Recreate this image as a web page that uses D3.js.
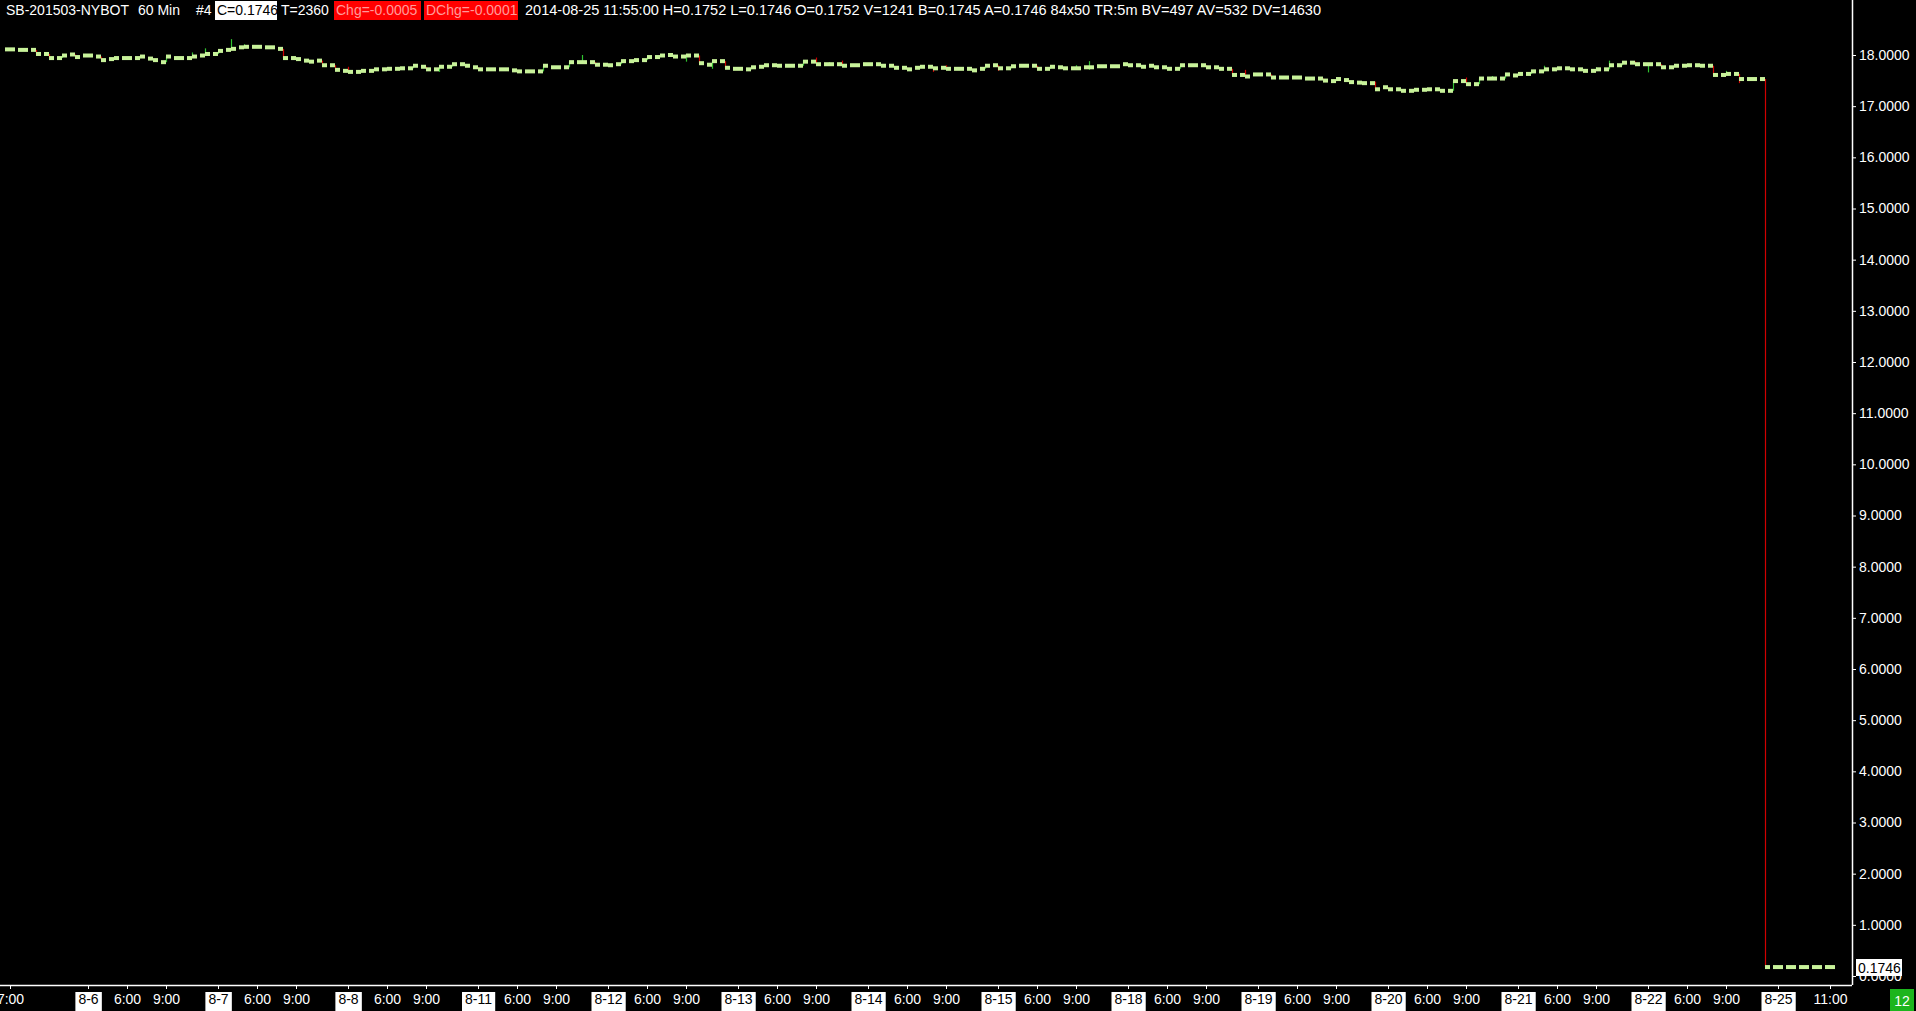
<!DOCTYPE html>
<html>
<head>
<meta charset="utf-8">
<script src="https://cdn.jsdelivr.net/npm/d3@7"></script>
<style>
html, body { margin: 0; padding: 0; background: #000; overflow: hidden; }
svg { display: block; }
text { font-family: "Liberation Sans", Arial, sans-serif; }
</style>
</head>
<body>
<div id="chart"></div>
<script>
// SB-201503 hourly bars, 8-5 7:00 .. 8-25 11:00 (one entry per bar)
var barOpen = [
	18.11, 18.10, 18.10, 18.02, 17.94, 18.01, 17.99, 17.97, 17.92, 17.94,
	17.94, 17.93, 17.86, 17.94, 17.94, 17.99, 18.02, 18.10, 18.15, 18.16,
	18.15, 18.12, 17.94, 17.89, 17.89, 17.80, 17.69, 17.67, 17.69, 17.72,
	17.73, 17.74, 17.77, 17.72, 17.77, 17.82, 17.76, 17.72, 17.72, 17.70,
	17.68, 17.68, 17.76, 17.76, 17.86, 17.86, 17.81, 17.82, 17.88, 17.90,
	17.96, 18.00, 17.97, 17.99, 17.81, 17.88, 17.73, 17.72, 17.77, 17.80,
	17.79, 17.79, 17.87, 17.82, 17.82, 17.80, 17.82, 17.82, 17.79, 17.75,
	17.75, 17.77, 17.75, 17.73, 17.73, 17.73, 17.80, 17.74, 17.79, 17.79,
	17.73, 17.76, 17.74, 17.76, 17.78, 17.78, 17.82, 17.80, 17.79, 17.76,
	17.73, 17.80, 17.80, 17.76, 17.73, 17.61, 17.62, 17.62, 17.56, 17.56,
	17.54, 17.54, 17.49, 17.51, 17.46, 17.45, 17.37, 17.33, 17.30, 17.32,
	17.33, 17.30, 17.49, 17.43, 17.54, 17.54, 17.60, 17.63, 17.68, 17.72,
	17.74, 17.72, 17.69, 17.72, 17.80, 17.85, 17.82, 17.82, 17.76, 17.79,
	17.80, 17.79, 17.61, 17.63, 17.53, 17.53, 0.1746, 0.1746, 0.1746, 0.1746,
	0.1752
];
var barClose = [
	18.11, 18.10, 18.02, 17.94, 17.99, 17.96, 17.99, 17.90, 17.94, 17.94,
	17.97, 17.90, 17.97, 17.94, 17.97, 18.02, 18.08, 18.12, 18.16, 18.16,
	18.15, 17.94, 17.92, 17.87, 17.80, 17.71, 17.67, 17.69, 17.72, 17.73,
	17.74, 17.79, 17.72, 17.77, 17.82, 17.79, 17.72, 17.72, 17.72, 17.68,
	17.68, 17.79, 17.76, 17.86, 17.86, 17.81, 17.80, 17.88, 17.90, 17.96,
	17.99, 17.97, 17.99, 17.84, 17.88, 17.75, 17.73, 17.76, 17.80, 17.79,
	17.79, 17.87, 17.82, 17.82, 17.79, 17.80, 17.82, 17.79, 17.75, 17.72,
	17.77, 17.74, 17.73, 17.73, 17.70, 17.79, 17.74, 17.78, 17.79, 17.73,
	17.77, 17.74, 17.74, 17.76, 17.78, 17.78, 17.80, 17.77, 17.76, 17.73,
	17.80, 17.80, 17.76, 17.73, 17.61, 17.58, 17.62, 17.56, 17.56, 17.56,
	17.54, 17.50, 17.53, 17.47, 17.45, 17.33, 17.33, 17.30, 17.32, 17.33,
	17.30, 17.49, 17.43, 17.54, 17.54, 17.62, 17.63, 17.68, 17.72, 17.74,
	17.72, 17.69, 17.72, 17.80, 17.85, 17.82, 17.82, 17.76, 17.79, 17.80,
	17.79, 17.61, 17.63, 17.53, 17.53, 0.1746, 0.1746, 0.1746, 0.1746, 0.1746,
	0.1746
];
// [bar, high, low] where the high/low line sticks out of the ticks
var wicks = [
	[14, 18.05, null], [15, 18.13, null], [17, 18.31, null], [18, 18.21, null],
	[26, 17.77, null], [33, null, 17.67], [44, 18.00, null], [52, 18.02, 17.87],
	[54, null, 17.73], [61, 17.90, null], [62, 17.95, null], [63, 17.86, null],
	[64, 17.89, null], [71, null, 17.67], [72, 17.80, null], [76, null, 17.69],
	[82, 17.80, null], [83, 17.88, 17.71], [95, 17.71, null], [105, 17.48, null],
	[112, 17.56, null], [114, 17.59, null], [118, 17.79, null], [122, 17.76, null],
	[123, 17.89, null], [125, 17.87, null], [126, null, 17.66], [132, 17.69, null],
	[133, null, 17.45]
];

var xTickBars = [0, 6, 9, 12, 16, 19, 22, 26, 29, 32, 36, 39, 42, 46, 49, 52, 56, 59, 62,
	66, 69, 72, 76, 79, 82, 86, 89, 92, 96, 99, 102, 106, 109, 112, 116, 119, 122,
	126, 129, 132, 136, 140];
var xTickLabels = ["7:00", "8-6", "6:00", "9:00", "8-7", "6:00", "9:00", "8-8", "6:00", "9:00",
	"8-11", "6:00", "9:00", "8-12", "6:00", "9:00", "8-13", "6:00", "9:00",
	"8-14", "6:00", "9:00", "8-15", "6:00", "9:00", "8-18", "6:00", "9:00",
	"8-19", "6:00", "9:00", "8-20", "6:00", "9:00", "8-21", "6:00", "9:00",
	"8-22", "6:00", "9:00", "8-25", "11:00"];
var yTicks = [0, 1, 2, 3, 4, 5, 6, 7, 8, 9, 10, 11, 12, 13, 14, 15, 16, 17, 18];

var lastPrice = "0.1746";

var W = 1916, H = 1011;
var axisX = 1852, axisY = 985;

var svg = d3.select("#chart").append("svg")
	.attr("width", W)
	.attr("height", H);
svg.append("rect").attr("width", W).attr("height", H).attr("fill", "#000");

var x = d3.scaleLinear().domain([0, 140]).range([10, 1830]);
var y = d3.scaleLinear().domain([0, 18]).range([976, 55]);

svg.append("clipPath").attr("id", "plotclip")
	.append("rect").attr("x", 0).attr("y", 0).attr("width", axisX).attr("height", axisY);

var wickMap = {};
wicks.forEach(function(w){ wickMap[w[0]] = w; });

var bars = barOpen.map(function(o, i){
	var c = barClose[i];
	var w = wickMap[i];
	var hi = Math.max(o, c), lo = Math.min(o, c);
	if (w && w[1] != null) hi = w[1];
	if (w && w[2] != null) lo = w[2];
	return {i: i, o: o, c: c, hi: hi, lo: lo, up: c >= o};
});

var plot = svg.append("g").attr("clip-path", "url(#plotclip)");

// high-low lines
plot.selectAll("line.hl")
	.data(bars)
	.enter().append("line")
	.attr("class", "hl")
	.attr("x1", function(d){ return Math.round(x(d.i)) + 0.5; })
	.attr("x2", function(d){ return Math.round(x(d.i)) + 0.5; })
	.attr("y1", function(d){ return y(d.hi); })
	.attr("y2", function(d){ return y(d.lo); })
	.attr("stroke", function(d){ return d.up ? "#2fc22f" : "#d00000"; })
	.attr("stroke-width", 1.2);

// open tick (left) and close tick (right)
plot.selectAll("rect.open")
	.data(bars)
	.enter().append("rect")
	.attr("class", "open")
	.attr("x", function(d){ return x(d.i) - 5; })
	.attr("y", function(d){ return y(d.o) - 2; })
	.attr("width", 5)
	.attr("height", 4)
	.attr("fill", "#c8f29a");

plot.selectAll("rect.close")
	.data(bars)
	.enter().append("rect")
	.attr("class", "close")
	.attr("x", function(d){ return x(d.i); })
	.attr("y", function(d){ return y(d.c) - 2; })
	.attr("width", 5)
	.attr("height", 4)
	.attr("fill", "#c8f29a");

// right price axis
var yAxis = d3.axisRight(y)
	.tickValues(yTicks)
	.tickFormat(d3.format(".4f"))
	.tickSize(4)
	.tickPadding(3);
var gy = svg.append("g")
	.attr("transform", "translate(" + axisX + ",0)")
	.call(yAxis);
gy.select(".domain").remove();
gy.selectAll("line").attr("stroke", "#fff");
gy.selectAll("text").attr("fill", "#fff").attr("font-size", 14).attr("font-family", "Liberation Sans, Arial, sans-serif");

// time axis
var xAxis = d3.axisBottom(x)
	.tickValues(xTickBars)
	.tickFormat(function(d, i){ return xTickLabels[i]; })
	.tickSize(4)
	.tickPadding(5);
var gx = svg.append("g")
	.attr("transform", "translate(0," + axisY + ")")
	.call(xAxis);
gx.select(".domain").remove();
gx.selectAll("line").attr("stroke", "#fff");
gx.selectAll(".tick text")
	.attr("font-size", 14)
	.attr("font-family", "Liberation Sans, Arial, sans-serif")
	.attr("fill", "#fff");

// date labels sit in white boxes
gx.selectAll(".tick").each(function(d, i){
	var lbl = xTickLabels[i];
	if (lbl.indexOf("-") < 0) return;
	var tk = d3.select(this);
	var txt = tk.select("text");
	var bb = txt.node().getBBox();
	tk.insert("rect", "text")
		.attr("x", bb.x - 3)
		.attr("y", 7)
		.attr("width", bb.width + 6)
		.attr("height", 19)
		.attr("fill", "#fff");
	txt.attr("fill", "#000");
});

// axis lines
svg.append("line").attr("x1", 0).attr("x2", axisX).attr("y1", axisY + 0.5).attr("y2", axisY + 0.5)
	.attr("stroke", "#fff").attr("stroke-width", 1.5);
svg.append("line").attr("x1", axisX + 0.5).attr("x2", axisX + 0.5).attr("y1", 0).attr("y2", axisY)
	.attr("stroke", "#fff").attr("stroke-width", 1.5);

// last price marker
svg.append("rect").attr("x", 1856).attr("y", 959).attr("width", 46).attr("height", 17).attr("fill", "#fff");
svg.append("text").attr("x", 1858).attr("y", 973).attr("font-size", 14).attr("fill", "#000").text(lastPrice);

// bar countdown box
svg.append("rect").attr("x", 1890).attr("y", 989).attr("width", 24).attr("height", 22).attr("fill", "#1db51d");
svg.append("text").attr("x", 1902).attr("y", 1006).attr("font-size", 14).attr("fill", "#fff")
	.attr("text-anchor", "middle").text("12");

// header line
var header = [
	{t: "SB-201503-NYBOT", x: 6},
	{t: "60 Min", x: 138},
	{t: "#4", x: 196},
	{t: "C=0.1746", x: 217, bg: "#fff", fg: "#000", bx: 215, bw: 62},
	{t: "T=2360", x: 281},
	{t: "Chg=-0.0005", x: 336, bg: "#ff0000", fg: "#ff9a9a", bx: 334, bw: 87},
	{t: "DChg=-0.0001", x: 426, bg: "#ff0000", fg: "#ff9a9a", bx: 424, bw: 94},
	{t: "2014-08-25 11:55:00 H=0.1752 L=0.1746 O=0.1752 V=1241 B=0.1745 A=0.1746 84x50 TR:5m BV=497 AV=532 DV=14630", x: 525, len: 796}
];
var gh = svg.append("g");
header.forEach(function(h){
	if (h.bg) {
		gh.append("rect").attr("x", h.bx).attr("y", 1).attr("width", h.bw).attr("height", 19).attr("fill", h.bg);
	}
	var t = gh.append("text")
		.attr("x", h.x)
		.attr("y", 15)
		.attr("font-size", 14)
		.attr("fill", h.fg || "#fff")
		.text(h.t);
	if (h.len) t.attr("textLength", h.len).attr("lengthAdjust", "spacingAndGlyphs");
});
</script>
</body>
</html>
